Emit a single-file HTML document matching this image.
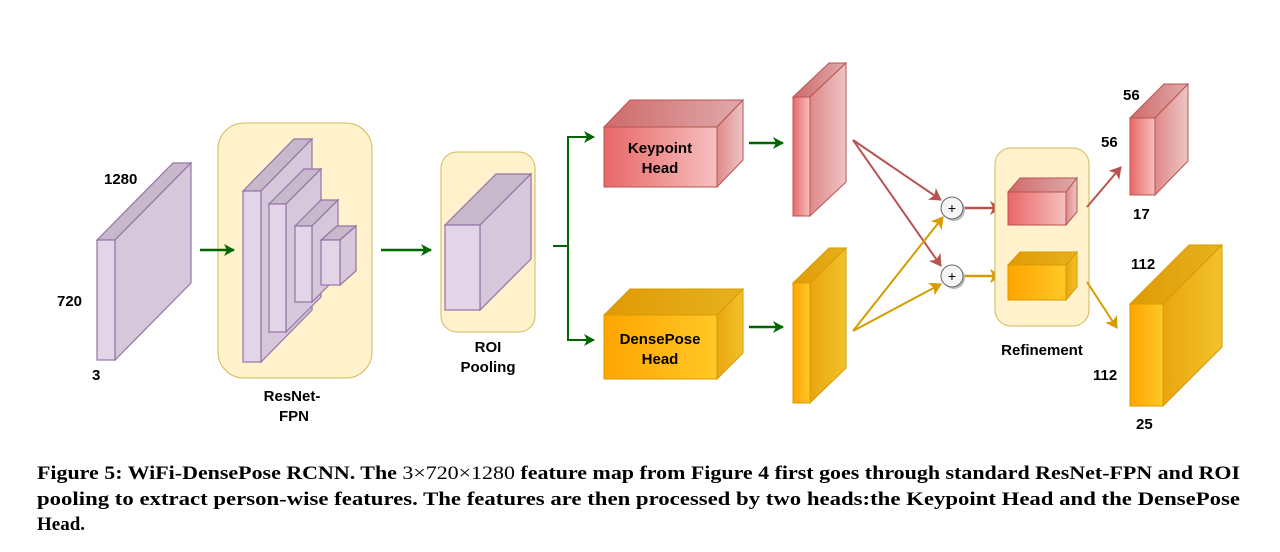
<!DOCTYPE html>
<html><head><meta charset="utf-8"><style>html,body{margin:0;padding:0;background:#fff;width:1280px;height:552px;overflow:hidden}</style></head><body>
<svg width="1280" height="552" viewBox="0 0 1280 552" xmlns="http://www.w3.org/2000/svg" font-family="Liberation Sans, sans-serif">
<defs>
<linearGradient id="rf" x1="0" x2="1"><stop offset="0" stop-color="#e96767"/><stop offset="1" stop-color="#f6c0c0"/></linearGradient>
<linearGradient id="rt" x1="0" x2="1"><stop offset="0" stop-color="#cf6a6a"/><stop offset="1" stop-color="#e0aaaa"/></linearGradient>
<linearGradient id="rs" x1="0" x2="1"><stop offset="0" stop-color="#de8a8a"/><stop offset="1" stop-color="#eec4c4"/></linearGradient>
<linearGradient id="of" x1="0" x2="1"><stop offset="0" stop-color="#ffa500"/><stop offset="1" stop-color="#ffc826"/></linearGradient>
<linearGradient id="ot" x1="0" x2="1"><stop offset="0" stop-color="#e09a05"/><stop offset="1" stop-color="#e6b21e"/></linearGradient>
<linearGradient id="os" x1="0" x2="1"><stop offset="0" stop-color="#eaa510"/><stop offset="1" stop-color="#f2c22a"/></linearGradient>
<marker id="ag" markerWidth="12" markerHeight="12" refX="10" refY="6" orient="auto" markerUnits="userSpaceOnUse"><path d="M0,0 L11,6 L0,12 L3,6 Z" fill="#006600"/></marker>
<marker id="ar" markerWidth="14" markerHeight="14" refX="11" refY="7" orient="auto" markerUnits="userSpaceOnUse"><path d="M0,0 L12,7 L0,14 L3,7 Z" fill="#b85450"/></marker>
<marker id="ao" markerWidth="14" markerHeight="14" refX="11" refY="7" orient="auto" markerUnits="userSpaceOnUse"><path d="M0,0 L12,7 L0,14 L3,7 Z" fill="#d79b00"/></marker>
</defs>

<!-- input -->
<g stroke="#9673a6" stroke-width="1.2">
<polygon points="97,240 173,163 191,163 115,240" fill="#c7b8cc"/>
<polygon points="115,240 191,163 191,283 115,360" fill="#d6c7da"/>
<rect x="97" y="240" width="18" height="120" fill="#e1d5e7"/>
</g>
<g font-weight="bold" font-size="15" fill="#000">
<text x="104" y="184">1280</text><text x="57" y="306">720</text><text x="92" y="380">3</text>
</g>

<!-- ResNet container -->
<rect x="218" y="123" width="154" height="255" rx="26" fill="#fff2cc" stroke="#d6b656"/>
<g stroke="#9673a6" stroke-width="1.2">
<polygon points="243,191 294,139 312,139 261,191" fill="#c7b8cc"/><polygon points="261,191 312,139 312,310 261,362" fill="#d6c7da"/><rect x="243" y="191" width="18" height="171" fill="#e1d5e7"/>
<polygon points="269,204 304,169 321,169 286,204" fill="#c7b8cc"/><polygon points="286,204 321,169 321,297 286,332" fill="#d6c7da"/><rect x="269" y="204" width="17" height="128" fill="#e1d5e7"/>
<polygon points="295,226 321,200 338,200 312,226" fill="#c7b8cc"/><polygon points="312,226 338,200 338,276 312,302" fill="#d6c7da"/><rect x="295" y="226" width="17" height="76" fill="#e1d5e7"/>
<polygon points="321,240 337,226 356,226 340,240" fill="#c7b8cc"/><polygon points="340,240 356,226 356,271 340,285" fill="#d6c7da"/><rect x="321" y="240" width="19" height="45" fill="#e1d5e7"/>
</g>
<g font-weight="bold" font-size="15" text-anchor="middle"><text x="292" y="401">ResNet-</text><text x="294" y="421">FPN</text></g>
<line x1="200" y1="250" x2="234" y2="250" stroke="#006600" stroke-width="2.5" marker-end="url(#ag)"/>
<line x1="381" y1="250" x2="431" y2="250" stroke="#006600" stroke-width="2.5" marker-end="url(#ag)"/>

<!-- ROI -->
<rect x="441" y="152" width="94" height="180" rx="16" fill="#fff2cc" stroke="#d6b656"/>
<g stroke="#9673a6" stroke-width="1.2">
<polygon points="445,225 496,174 531,174 480,225" fill="#c7b8cc"/><polygon points="480,225 531,174 531,259 480,310" fill="#d6c7da"/><rect x="445" y="225" width="35" height="85" fill="#e1d5e7"/>
</g>
<g font-weight="bold" font-size="15" text-anchor="middle"><text x="488" y="352">ROI</text><text x="488" y="372">Pooling</text></g>

<!-- branch -->
<path d="M553,246 H568 V137 H594" fill="none" stroke="#006600" stroke-width="2" marker-end="url(#ag)"/>
<path d="M568,246 V340 H594" fill="none" stroke="#006600" stroke-width="2" marker-end="url(#ag)"/>

<!-- heads -->
<g stroke="#b85450" stroke-width="1">
<polygon points="604,127 630,100 743,100 717,127" fill="url(#rt)"/><polygon points="717,127 743,100 743,160 717,187" fill="url(#rs)"/><rect x="604" y="127" width="113" height="60" fill="url(#rf)"/>
</g>
<g stroke="#d79b00" stroke-width="1">
<polygon points="604,315 630,289 743,289 717,315" fill="url(#ot)"/><polygon points="717,315 743,289 743,353 717,379" fill="url(#os)"/><rect x="604" y="315" width="113" height="64" fill="url(#of)"/>
</g>
<g font-weight="bold" font-size="15" text-anchor="middle"><text x="660" y="153">Keypoint</text><text x="660" y="173">Head</text><text x="660" y="344">DensePose</text><text x="660" y="364">Head</text></g>
<line x1="749" y1="143" x2="783" y2="143" stroke="#006600" stroke-width="2.5" marker-end="url(#ag)"/>
<line x1="749" y1="327" x2="783" y2="327" stroke="#006600" stroke-width="2.5" marker-end="url(#ag)"/>

<!-- tall maps -->
<g stroke="#b85450" stroke-width="1">
<polygon points="793,97 829,63 846,63 810,97" fill="url(#rt)"/><polygon points="810,97 846,63 846,182 810,216" fill="url(#rs)"/><rect x="793" y="97" width="17" height="119" fill="url(#rf)"/>
</g>
<g stroke="#d79b00" stroke-width="1">
<polygon points="793,283 829,248 846,248 810,283" fill="url(#ot)"/><polygon points="810,283 846,248 846,368 810,403" fill="url(#os)"/><rect x="793" y="283" width="17" height="120" fill="url(#of)"/>
</g>

<!-- cross connections -->
<line x1="853" y1="140" x2="941" y2="200" stroke="#b85450" stroke-width="2" marker-end="url(#ar)"/>
<line x1="853" y1="140" x2="941" y2="266" stroke="#b85450" stroke-width="2" marker-end="url(#ar)"/>
<line x1="853" y1="331" x2="943" y2="217" stroke="#d79b00" stroke-width="2" marker-end="url(#ao)"/>
<line x1="853" y1="331" x2="941" y2="284" stroke="#d79b00" stroke-width="2" marker-end="url(#ao)"/>
<line x1="964" y1="208" x2="1001" y2="208" stroke="#b85450" stroke-width="2.5" marker-end="url(#ar)"/>
<line x1="964" y1="276" x2="1001" y2="276" stroke="#d79b00" stroke-width="2.5" marker-end="url(#ao)"/>
<g stroke="#666" stroke-width="1" fill="#f5f5f5">
<circle cx="954" cy="210" r="11" fill="#bbb" stroke="none"/><circle cx="952" cy="208" r="11"/>
<circle cx="954" cy="278" r="11" fill="#bbb" stroke="none"/><circle cx="952" cy="276" r="11"/>
</g>
<g font-size="14" text-anchor="middle"><text x="952" y="213">+</text><text x="952" y="281">+</text></g>

<!-- refinement -->
<rect x="995" y="148" width="94" height="178" rx="16" fill="#fff2cc" stroke="#d6b656"/>
<g stroke="#b85450" stroke-width="1">
<polygon points="1008,192 1020,178 1077,178 1066,192" fill="url(#rt)"/><polygon points="1066,192 1077,178 1077,212 1066,225" fill="url(#rs)"/><rect x="1008" y="192" width="58" height="33" fill="url(#rf)"/>
</g>
<g stroke="#d79b00" stroke-width="1">
<polygon points="1008,265 1020,252 1077,252 1066,265" fill="url(#ot)"/><polygon points="1066,265 1077,252 1077,287 1066,300" fill="url(#os)"/><rect x="1008" y="265" width="58" height="35" fill="url(#of)"/>
</g>
<text x="1042" y="355" font-weight="bold" font-size="15" text-anchor="middle">Refinement</text>
<line x1="1087" y1="207" x2="1121" y2="167" stroke="#b85450" stroke-width="2" marker-end="url(#ar)"/>
<line x1="1087" y1="282" x2="1117" y2="328" stroke="#d79b00" stroke-width="2" marker-end="url(#ao)"/>

<!-- outputs -->
<g stroke="#b85450" stroke-width="1">
<polygon points="1130,118 1164,84 1188,84 1155,118" fill="url(#rt)"/><polygon points="1155,118 1188,84 1188,161 1155,195" fill="url(#rs)"/><rect x="1130" y="118" width="25" height="77" fill="url(#rf)"/>
</g>
<g stroke="#d79b00" stroke-width="1">
<polygon points="1130,304 1189,245 1222,245 1163,304" fill="url(#ot)"/><polygon points="1163,304 1222,245 1222,347 1163,406" fill="url(#os)"/><rect x="1130" y="304" width="33" height="102" fill="url(#of)"/>
</g>
<g font-weight="bold" font-size="15">
<text x="1123" y="100">56</text><text x="1101" y="147">56</text><text x="1133" y="219">17</text>
<text x="1131" y="269">112</text><text x="1093" y="380">112</text><text x="1136" y="429">25</text>
</g>

<!-- caption -->
<g font-family="Liberation Serif, serif" font-size="19" font-weight="bold" fill="#000">
<text x="37" y="479" textLength="1203" lengthAdjust="spacingAndGlyphs">Figure 5: WiFi-DensePose RCNN. The <tspan font-weight="normal">3×720×1280</tspan> feature map from Figure 4 first goes through standard ResNet-FPN and ROI</text>
<text x="37" y="505" textLength="1203" lengthAdjust="spacingAndGlyphs">pooling to extract person-wise features. The features are then processed by two heads:the Keypoint Head and the DensePose</text>
<text x="37" y="530">Head.</text>
</g>
</svg>
</body></html>
